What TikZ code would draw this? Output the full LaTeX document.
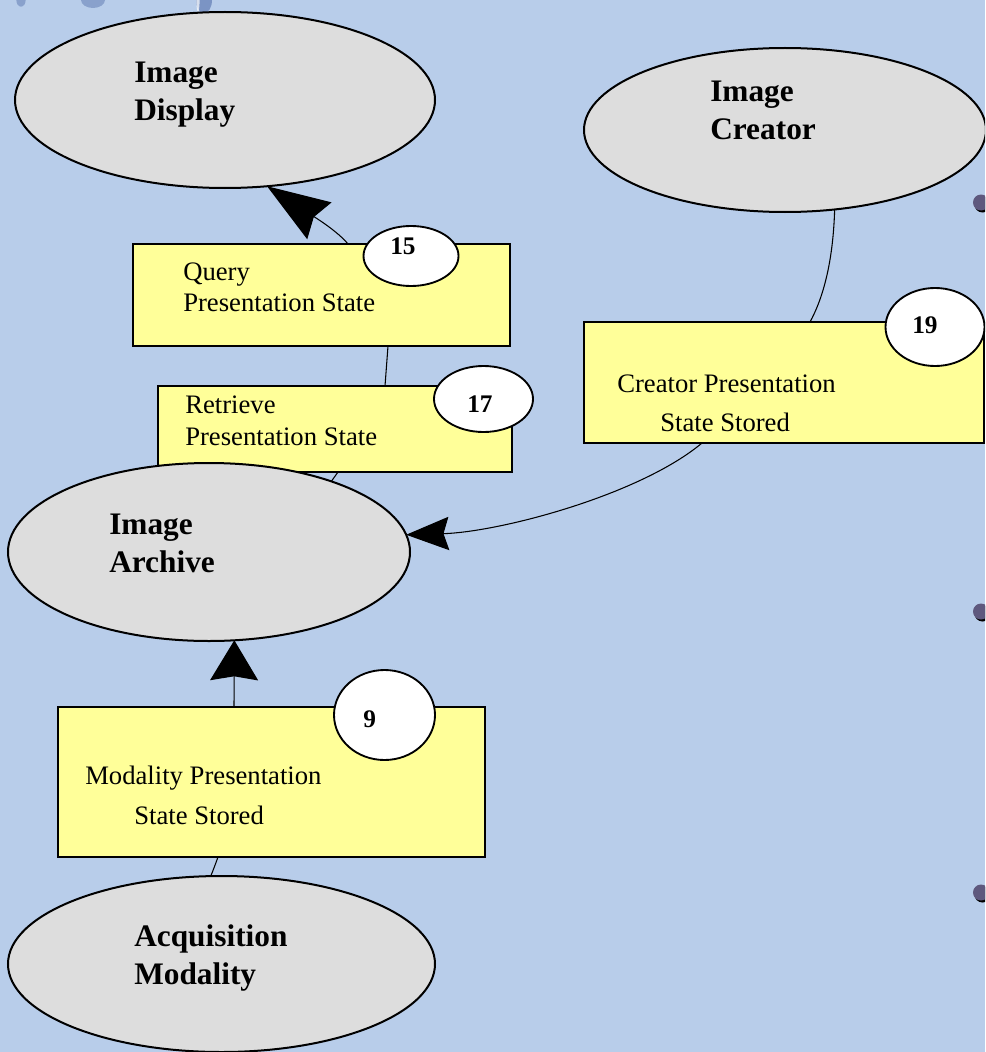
\documentclass[tikz,border=0pt]{standalone}
\usepackage{fontspec}
\setmainfont{Liberation Serif}
\usetikzlibrary{shapes.geometric,arrows.meta,calc}
\definecolor{bg}{RGB}{184,205,234}
\definecolor{ellgray}{RGB}{221,221,221}
\definecolor{boxyellow}{RGB}{255,255,153}
\definecolor{bulletc}{RGB}{94,88,126}
\definecolor{decoblue}{RGB}{50,80,150}
\begin{document}
\begin{tikzpicture}[x=0.75pt,y=-0.75pt,
  bigell/.style={ellipse, draw=black, line width=1.5pt, fill=ellgray, inner sep=0pt, outer sep=0pt},
  numell/.style={ellipse, draw=black, line width=1.4pt, fill=white, inner sep=0pt, outer sep=0pt},
  ybox/.style={rectangle, draw=black, line width=1.1pt, fill=boxyellow, inner sep=0pt, outer sep=0pt},
  conn/.style={draw=black, line width=0.8pt},
  lbl/.style={anchor=base west, inner sep=0pt, font=\fontsize{23.5}{28}\selectfont\bfseries},
  txt/.style={anchor=base west, inner sep=0pt, font=\fontsize{20}{24}\selectfont},
  num/.style={anchor=base west, inner sep=0pt, font=\fontsize{19}{22}\selectfont\bfseries},
  bulletdot/.style={fill=bulletc}
]
\useasboundingbox (0,0) rectangle (985,1052);
\clip (0,0) rectangle (985,1052);
\fill[bg] (0,0) rectangle (985,1052);

% top decoration remnants
\fill[decoblue, opacity=0.35] (21,0) ellipse [x radius=3.5pt, y radius=5pt];
\fill[decoblue, opacity=0.35] (93,0) ellipse [x radius=9pt, y radius=6pt];
\fill[decoblue, opacity=0.45] (204,0) ellipse [x radius=6pt, y radius=10pt];
\fill[white, opacity=0.7] (198,0) ellipse [x radius=1.2pt, y radius=9pt];

% boxes
\node[ybox, minimum width=282.75pt, minimum height=76.5pt] (q) at (321.5,295) {};
\node[ybox, minimum width=265.5pt, minimum height=64.5pt] (r) at (335,429) {};
\node[ybox, minimum width=300pt, minimum height=90.75pt] (cb) at (784,382.5) {};
\node[ybox, minimum width=320.25pt, minimum height=112.5pt] (m) at (271.5,782) {};

% big ellipses
\node[bigell, minimum width=315pt, minimum height=132pt] (disp) at (225,100) {};
\node[bigell, minimum width=301.5pt, minimum height=123pt] (crea) at (785,130) {};
\node[bigell, minimum width=301.5pt, minimum height=133.5pt] (arch) at (209,552) {};
\node[bigell, minimum width=320.25pt, minimum height=132pt] (acq) at (221.5,964) {};

% number ellipses
\node[numell, minimum width=71.25pt, minimum height=45pt] (n15) at (411,256) {};
\node[numell, minimum width=74.25pt, minimum height=49.5pt] (n17) at (483.5,399) {};
\node[numell, minimum width=74.25pt, minimum height=58.5pt] (n19) at (935,327) {};
\node[numell, minimum width=75.75pt, minimum height=67.5pt] (n9) at (384.5,715) {};

% texts
\node[lbl] (t1) at (134,83) {Image};
\node[lbl] (t2) at (134,121) {Display};
\node[lbl] (t3) at (710,102) {Image};
\node[lbl] (t4) at (710,140) {Creator};
\node[lbl] (t5) at (109,534) {Image};
\node[lbl] (t6) at (109,572) {Archive};
\node[lbl] (t7) at (134,946) {Acquisition};
\node[lbl] (t8) at (134,984) {Modality};

\node[txt] (q1) at (183,280) {Query};
\node[txt] (q2) at (183,311) {Presentation State};
\node[txt] (r1) at (185,413) {Retrieve};
\node[txt] (r2) at (185,445) {Presentation State};
\node[txt] (c1) at (617,392) {Creator Presentation};
\node[txt] (c2) at (660,431) {State Stored};
\node[txt] (m1) at (85,784) {Modality Presentation};
\node[txt] (m2) at (134,824) {State Stored};

\node[num] (l15) at (390,254) {15};
\node[num] (l17) at (467,412) {17};
\node[num] (l19) at (912,333) {19};
\node[num] (l9) at (363,727) {9};

% connectors
\draw[conn, -{Stealth[length=47pt,width=33pt,inset=5pt]}]
  ($(q.north west)+(215,0)$) .. controls (335,228) and (300,208) .. (disp.-64);
\draw[conn] ($(q.south west)+(255,0)$) -- ($(r.north west)+(227,0)$);
\draw[conn] ($(r.south west)+(180,0)$) -- (arch.30);
\draw[conn, -{Stealth[length=30pt,width=36pt,inset=3pt]}]
  ($(m.north west)+(176,0)$) -- (arch.-74);
\draw[conn] (acq.97) .. controls (214,868) .. ($(m.south west)+(160,0)$);
\draw[conn] (crea.-58) .. controls (833,265) and (822,300) .. ($(cb.north west)+(226,0)$);
\draw[conn, -{Stealth[length=32pt,width=25pt,inset=4pt]}]
  ($(cb.south west)+(118,0)$) .. controls (640,495) and (500,532) .. (arch.5);

% bullets
\foreach \yy/\nm in {202.5/b1, 611.5/b2, 892.5/b3}{
  \fill[black] (982.5,\yy+2) circle[radius=6pt];
  \fill[bulletdot] (981,\yy) circle[radius=6pt];
  \coordinate (\nm) at (981,\yy);
}
\end{tikzpicture}
\end{document}
